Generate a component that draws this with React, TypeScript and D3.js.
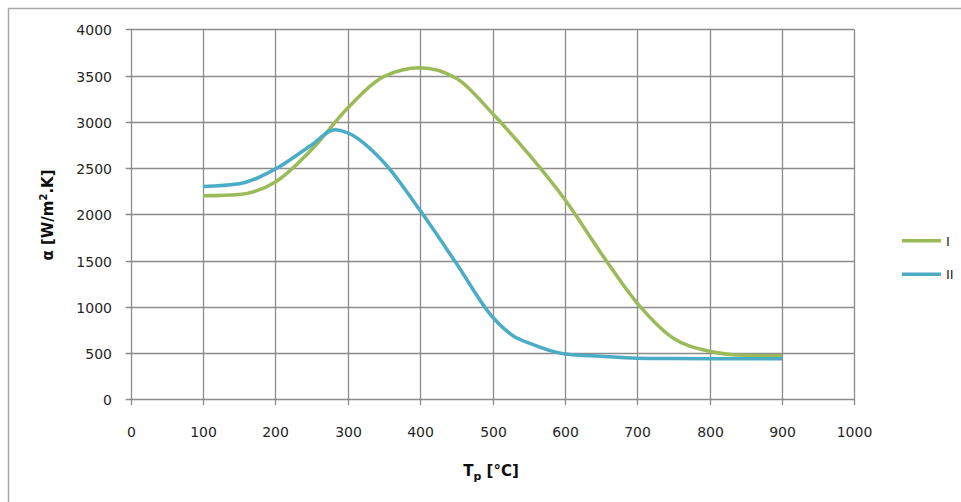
import React, { useEffect, useRef } from 'react';
import * as d3 from 'd3';

// temperature Tp [°C]
const temps = [100, 150, 200, 250, 300, 350, 400, 450, 500, 550, 600, 650, 700, 750, 800, 850, 900];
// series I (green)
const seriesI = [2200, 2215, 2350, 2700, 3150, 3490, 3585, 3470, 3090, 2650, 2160, 1580, 1040, 660, 520, 475, 470];
// series II (blue), peak sits between 250 and 300
const tempsII = [100, 150, 200, 250, 282, 300, 350, 400, 450, 500, 530, 550, 600, 650, 700, 750, 800, 850, 900];
const seriesII = [2300, 2330, 2490, 2750, 2915, 2880, 2560, 2040, 1470, 890, 680, 610, 490, 465, 445, 440, 438, 438, 438];

const xTicks = [0, 100, 200, 300, 400, 500, 600, 700, 800, 900, 1000];
const yTicks = [0, 500, 1000, 1500, 2000, 2500, 3000, 3500, 4000];

const legendLabels = ['I', 'II'];
const colors = ['#9BBB59', '#4BACC6'];

export default function App() {
  const svgRef = useRef<SVGSVGElement | null>(null);

  useEffect(() => {
    if (!svgRef.current) return;
    const W = 961;
    const H = 502;
    const svg = d3.select(svgRef.current);
    svg.selectAll('*').remove();
    svg.attr('width', W).attr('height', H);

    const font = '"DejaVu Sans", Verdana, sans-serif';

    // chart frame
    svg.append('rect')
      .attr('x', 8.5).attr('y', 8.5)
      .attr('width', W + 20).attr('height', H + 20)
      .attr('fill', '#fff')
      .attr('stroke', '#a6a6a6')
      .attr('stroke-width', 1.5);

    const x = d3.scaleLinear().domain([0, 1000]).range([130.7, 854.3]);
    const y = d3.scaleLinear().domain([0, 4000]).range([399.3, 29.3]);

    const grid = svg.append('g');
    // horizontal grid + ticks
    yTicks.forEach(v => {
      const yy = Math.round(y(v)) + 0.5;
      grid.append('line')
        .attr('x1', x(0) - 5).attr('x2', x(1000))
        .attr('y1', yy).attr('y2', yy)
        .attr('stroke', '#8c8c8c').attr('stroke-width', 1.3);
      svg.append('text')
        .attr('x', 112).attr('y', yy + 5)
        .attr('text-anchor', 'end')
        .attr('font-family', font).attr('font-size', 14)
        .attr('fill', '#262626')
        .text(v);
    });
    // vertical grid + ticks
    xTicks.forEach(v => {
      const xx = Math.round(x(v)) + 0.5;
      grid.append('line')
        .attr('x1', xx).attr('x2', xx)
        .attr('y1', y(4000)).attr('y2', y(0) + 6)
        .attr('stroke', '#8c8c8c').attr('stroke-width', 1.3);
      svg.append('text')
        .attr('x', xx).attr('y', 437)
        .attr('text-anchor', 'middle')
        .attr('font-family', font).attr('font-size', 14)
        .attr('fill', '#262626')
        .text(v);
    });

    const line = d3.line<[number, number]>()
      .x(d => x(d[0]))
      .y(d => y(d[1]))
      .curve(d3.curveMonotoneX);

    const dataI: [number, number][] = temps.map((t, i) => [t, seriesI[i]]);
    const dataII: [number, number][] = tempsII.map((t, i) => [t, seriesII[i]]);

    [dataI, dataII].forEach((d, i) => {
      svg.append('path')
        .datum(d)
        .attr('fill', 'none')
        .attr('stroke', colors[i])
        .attr('stroke-width', 3.5)
        .attr('stroke-linejoin', 'round')
        .attr('d', line);
    });

    // axis titles
    const yt = svg.append('text')
      .attr('transform', 'translate(53,215) rotate(-90)')
      .attr('text-anchor', 'middle')
      .attr('font-family', font).attr('font-size', 15)
      .attr('font-weight', 'bold')
      .attr('fill', '#0d0d0d');
    yt.append('tspan').text('α [W/m');
    yt.append('tspan').attr('font-size', 10).attr('dy', -6).text('2');
    yt.append('tspan').attr('dy', 6).text('.K]');

    const xt = svg.append('text')
      .attr('x', 491).attr('y', 476)
      .attr('text-anchor', 'middle')
      .attr('font-family', font).attr('font-size', 15)
      .attr('font-weight', 'bold')
      .attr('fill', '#0d0d0d');
    xt.append('tspan').text('T');
    xt.append('tspan').attr('font-size', 11).attr('dy', 4).text('p');
    xt.append('tspan').attr('dy', -4).text(' [°C]');

    // legend
    legendLabels.forEach((lab, i) => {
      const ly = 240.7 + i * 33.6;
      svg.append('line')
        .attr('x1', 902).attr('x2', 941)
        .attr('y1', ly).attr('y2', ly)
        .attr('stroke', colors[i]).attr('stroke-width', 3.5);
      svg.append('text')
        .attr('x', 946).attr('y', ly + 5)
        .attr('font-family', font).attr('font-size', 13)
        .attr('fill', '#262626')
        .text(lab);
    });
  }, []);

  return (
    <svg
      ref={svgRef}
      style={{ position: 'absolute', left: 0, top: 0, display: 'block' }}
    />
  );
}
